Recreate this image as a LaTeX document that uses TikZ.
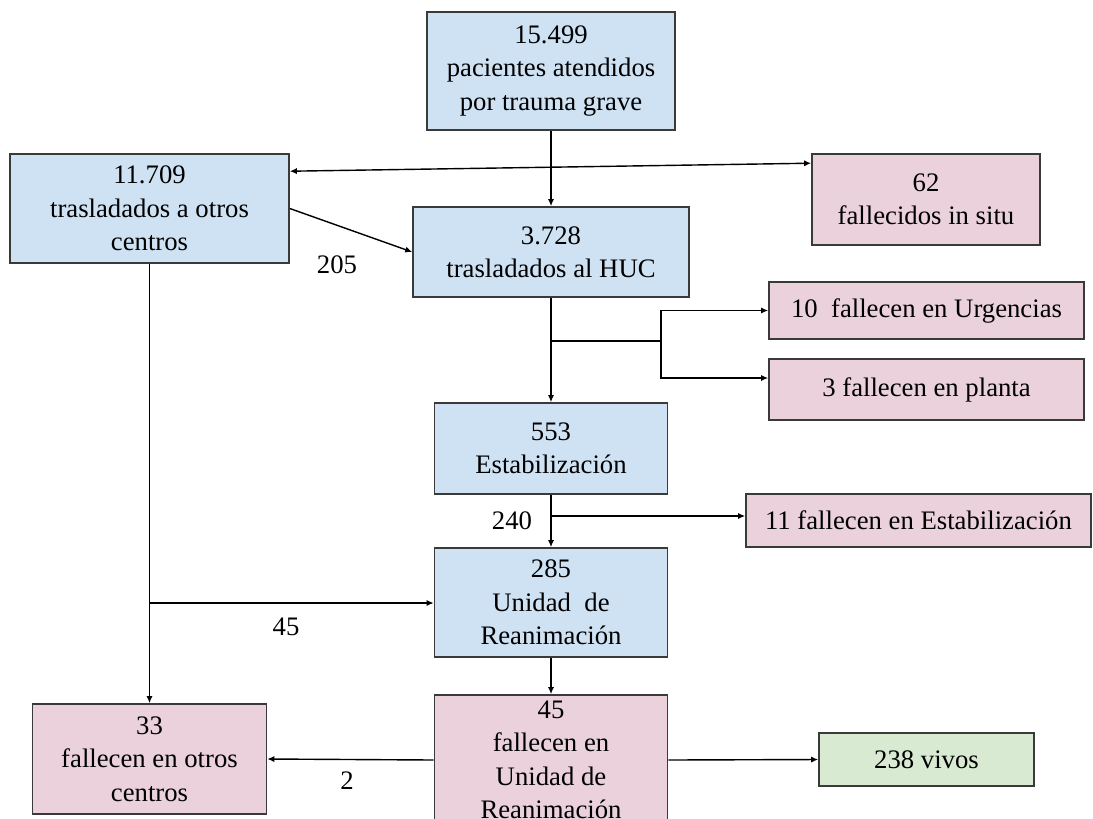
\documentclass[tikz,border=0pt]{standalone}
\usepackage{fontspec}
\setmainfont{Liberation Serif}
\usetikzlibrary{arrows.meta}
\definecolor{boxblue}{HTML}{CFE2F3}
\definecolor{boxpink}{HTML}{EAD1DC}
\definecolor{boxgreen}{HTML}{D9EAD3}
\definecolor{boxline}{HTML}{3A3A3A}
\begin{document}
\begin{tikzpicture}[
    font=\fontsize{15.2}{19}\selectfont,
    box/.style={draw=boxline, line width=0.9pt, align=center, inner sep=0pt},
    blue/.style={box, fill=boxblue},
    pink/.style={box, fill=boxpink},
    green/.style={box, fill=boxgreen},
    flow/.style={line width=0.8pt, -{Latex[length=4pt,width=3.5pt]}},
    link/.style={line width=0.8pt}
  ]
  \useasboundingbox (0,0) rectangle (21.86,-16.36);
  \clip (0,0) rectangle (21.86,-16.36);
  \node[blue, minimum width=4.96cm, minimum height=2.36cm] (A) at (11.02,-1.42) {15.499\\pacientes atendidos\\por trauma grave};
  \node[blue, minimum width=5.58cm, minimum height=2.18cm] (B) at (2.99,-4.17) {11.709\\trasladados a otros\\centros};
  \node[blue, minimum width=5.52cm, minimum height=1.80cm] (C) at (11.02,-5.04) {3.728\\trasladados al HUC};
  \node[pink, minimum width=4.56cm, minimum height=1.82cm] (D) at (18.52,-3.99) {62\\fallecidos in situ};
  \node[pink, minimum width=6.30cm, minimum height=1.14cm] (E) at (18.53,-6.21) {10\ \ fallecen en Urgencias};
  \node[pink, minimum width=6.30cm, minimum height=1.22cm] (F) at (18.53,-7.79) {3 fallecen en planta};
  \node[blue, minimum width=4.66cm, minimum height=1.82cm] (G) at (11.02,-8.97) {553\\Estabilización};
  \node[pink, minimum width=6.90cm, minimum height=1.06cm] (H) at (18.37,-10.41) {11 fallecen en Estabilización};
  \node[blue, minimum width=4.66cm, minimum height=2.18cm] (I) at (11.02,-12.05) {285\\Unidad\ \ de\\Reanimación};
  \node[pink, minimum width=4.66cm, minimum height=2.60cm] (J) at (11.02,-15.20) {45\\fallecen en\\Unidad de\\Reanimación};
  \node[pink, minimum width=4.68cm, minimum height=2.20cm] (K) at (2.99,-15.18) {33\\fallecen en otros\\centros};
  \node[green, minimum width=4.30cm, minimum height=1.06cm] (L) at (18.53,-15.19) {238 vivos};
  \node (n205) at (6.74,-5.30) {205};
  \node (n240) at (10.24,-10.42) {240};
  \node (n45) at (5.72,-12.54) {45};
  \node (n2) at (6.94,-15.62) {2};
  \coordinate (br1) at (11.02,-6.82);
  \coordinate (br1e) at (13.22,-6.82);
  \coordinate (br2) at (11.02,-10.32);
  \coordinate (br3) at (2.99,-12.06);
  \draw[flow] (A) -- (C);
  \draw[flow, {Latex[length=4pt,width=3.5pt]}-{Latex[length=4pt,width=3.5pt]}] ([yshift=-0.36cm]B.north east) -- ([yshift=-0.2cm]D.north west);
  \draw[flow] (B.east) -- (C.west);
  \draw[flow] (C) -- (G);
  \draw[link] (br1) -- (br1e);
  \draw[flow] (br1e) |- (E.west);
  \draw[flow] (br1e) |- ([yshift=0.23cm]F.west);
  \draw[flow] (G) -- (I);
  \draw[flow] (br2) -- (br2 -| H.west);
  \draw[flow] (B) -- (K);
  \draw[flow] (br3) -- (br3 -| I.west);
  \draw[flow] (I) -- (J);
  \draw[flow] (J.west) -- (K.east);
  \draw[flow] (J.east) -- (L.west);
\end{tikzpicture}
\end{document}
